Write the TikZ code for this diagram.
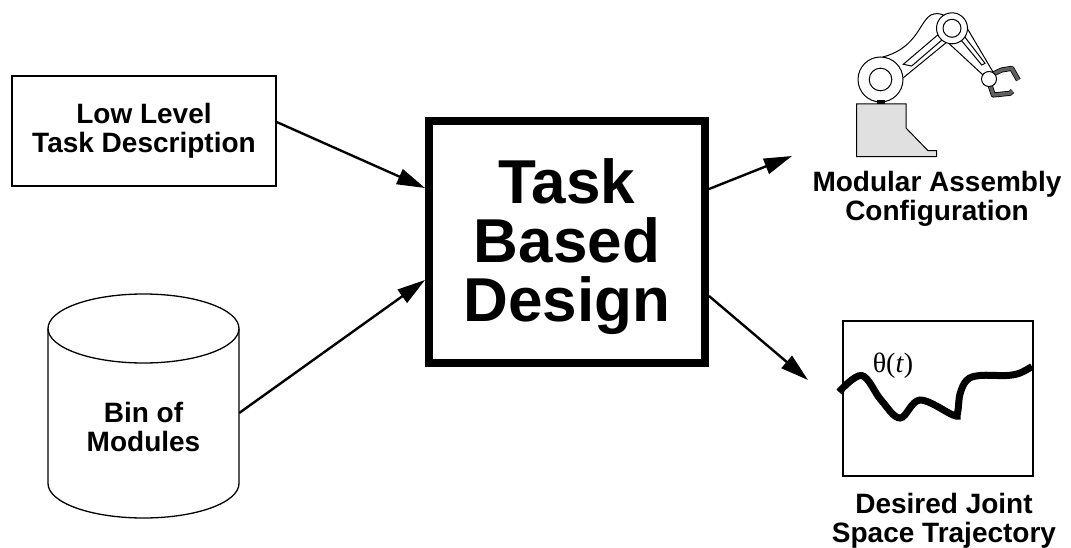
\documentclass[tikz,border=0pt]{standalone}
\usepackage{fontspec}
\setmainfont{Liberation Sans}
\newfontfamily\serifface{Liberation Serif}
\usetikzlibrary{arrows.meta}
\definecolor{basegray}{RGB}{224,224,224}
\definecolor{jawgray}{RGB}{96,96,96}
\begin{document}
\begin{tikzpicture}[x=1pt,y=1pt,
  caption/.style={font=\fontsize{28}{29}\selectfont\bfseries, align=center, inner sep=0pt},
  thinbox/.style={draw, line width=1.3pt, inner sep=0pt},
  flow/.style={line width=2.4pt, -{Triangle[length=28pt,width=16pt]}},
  part/.style={draw, line width=1pt, fill=white},
  jaw/.style={line width=0.8pt, double=jawgray, double distance=3.5pt, line join=round}]
\useasboundingbox (0,0) rectangle (1071,-548);

% ---- inputs ----
\node[thinbox, caption, minimum width=264pt, minimum height=110pt] (low) at (144,-131)
  {Low Level\\Task Description};

% bin of modules drawn as a cylinder
\draw[line width=1.3pt] (48,-328.5) -- (48,-483.5)
  arc[start angle=180, end angle=360, x radius=95.5, y radius=34.5] -- (239,-328.5);
\draw[line width=1.3pt] (143.5,-328.5) ellipse [x radius=95.5, y radius=34.5];
\node[caption, minimum width=191pt] (bin) at (143.5,-427) {Bin of\\Modules};

% ---- central design block ----
\node[draw, line width=8pt, minimum width=276pt, minimum height=242pt, inner sep=0pt,
  font=\fontsize{62}{59}\selectfont\bfseries, align=center] (tbd) at (567,-242)
  {\rule{0pt}{55pt}Task\\Based\\Design};

% ---- output 1: modular manipulator ----
\coordinate (arm) at (792,-156);
% pedestal
\draw[line width=1pt, fill=basegray] (856.7,-104) -- (906,-104) -- (906,-128) -- (928,-150.7)
  -- (936.7,-150.7) -- (936.7,-156.7) -- (856.7,-156.7) -- cycle;
% upper link
\draw[part] (880,-70) -- (883,-57) .. controls (897,-53) and (906,-47) .. (914,-37)
  .. controls (922,-27) and (926,-15) .. (934,-14) .. controls (938,-13) and (941,-14) .. (946,-16)
  -- (952,-28) -- (947,-42) -- (903,-78) -- cycle;
\draw[line width=1pt] (942,-31.3) -- (903.3,-64.3) -- (911.7,-66) -- (946,-36.5);
% forearm link
\draw[part] (943,-38) -- (983,-75) -- (993,-72) -- (967,-28) -- cycle;
\draw[line width=1pt] (958.3,-36.7) -- (981.7,-65) -- (985,-63.3) -- (963.3,-35);
% gripper jaws
\draw[jaw] (993,-74) -- (1001.7,-70) -- (1011.7,-68.3) -- (1018.3,-80);
\draw[jaw] (990,-85) -- (993.3,-95) -- (1010,-93.3) -- (1012.5,-91);
% joints
\draw[part] (880.5,-79.5) circle[radius=22.5];
\draw[line width=1pt] (880.5,-79.5) circle[radius=11.3];
\draw[part] (952,-28.3) circle[radius=15.5];
\draw[line width=1pt] (952,-28.3) circle[radius=9];
\draw[part] (989,-79) circle[radius=7.5];
\fill (876.7,-100.5) rectangle (885,-104);
\node[caption] (armlabel) at (937,-199) {Modular Assembly\\Configuration};

% ---- output 2: joint trajectory plot ----
\coordinate (plot) at (808,-380);
\node[thinbox, minimum width=190pt, minimum height=155pt] (traj) at (938,-398.5) {};
\draw[line width=7pt] plot[smooth, tension=0.6] coordinates {(839,-392) (861.7,-375.5)
  (881,-400) (900,-418) (920,-400) (953,-415) (957.5,-413) (960,-394) (967,-380) (980,-375.5)
  (1006.7,-375.5) (1020,-373) (1032,-366.5)};
\node[font=\serifface\fontsize{28}{28}\selectfont, inner sep=0pt, anchor=base] (theta)
  at (893,-372) {θ(\textit{t})};
\node[caption] (trajlabel) at (944,-521) {Desired Joint\\Space Trajectory};

% ---- connectors ----
\draw[flow] ([yshift=9pt]low.east) -- ([yshift=54pt]tbd.west);
\draw[flow] ([yshift=14pt]bin.east) -- ([yshift=-38pt]tbd.west);
\draw[flow] ([yshift=53pt]tbd.east) -- (arm);
\draw[flow] ([yshift=-54pt]tbd.east) -- (plot);
\end{tikzpicture}
\end{document}
